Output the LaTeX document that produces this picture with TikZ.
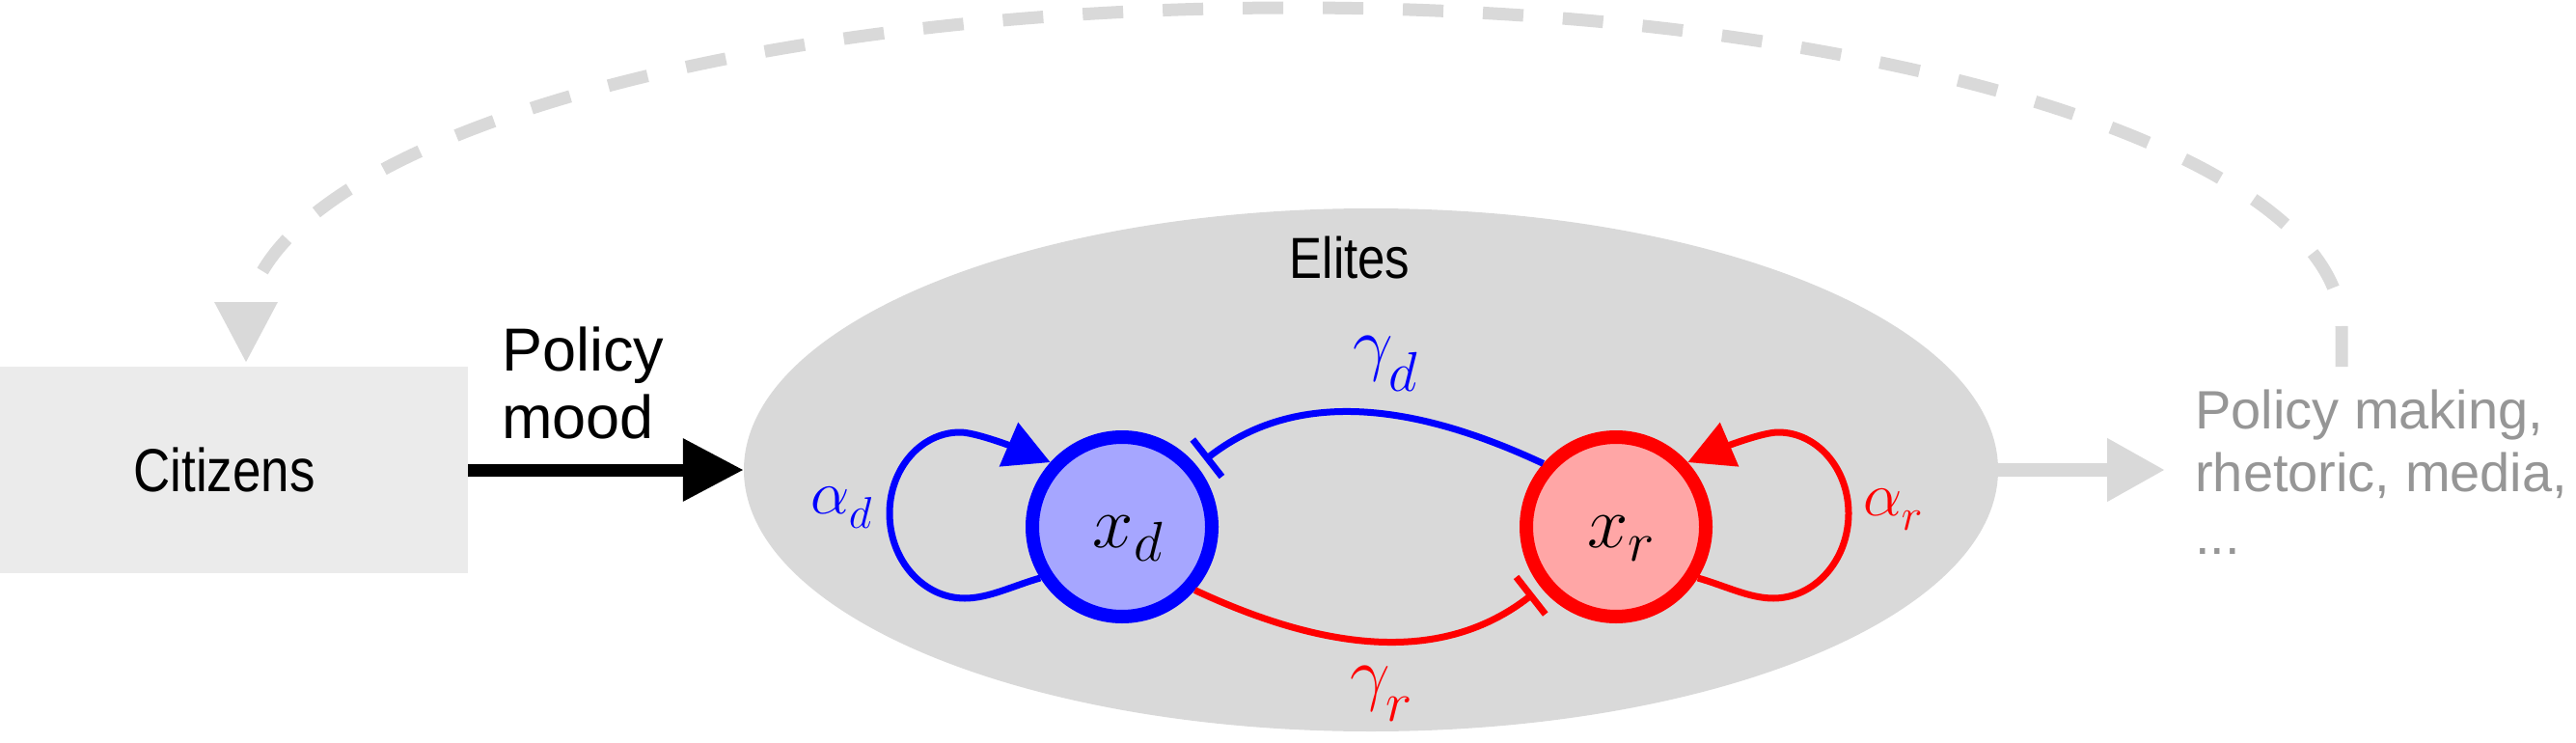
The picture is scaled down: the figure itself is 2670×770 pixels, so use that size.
\RequirePackage{fix-cm}
\documentclass[tikz,border=0pt]{standalone}
\usepackage[no-math]{fontspec}
\setmainfont{Liberation Sans}
\usetikzlibrary{arrows.meta,shapes.geometric}
\newcommand{\subsz}[3]{\raisebox{-#2pt}{\fontsize{#1}{#1}\selectfont$#3$}}
\definecolor{lgrey}{RGB}{217,217,217}
\definecolor{boxgrey}{RGB}{235,235,235}
\definecolor{txtgrey}{RGB}{150,150,150}
\definecolor{dfill}{RGB}{166,166,255}
\definecolor{rfill}{RGB}{255,166,166}
\definecolor{dblue}{RGB}{0,0,255}
\definecolor{rred}{RGB}{255,0,0}
\begin{document}
\begin{tikzpicture}[x=1pt,y=-1pt,
  bigtext/.style={inner sep=0pt, font=\fontsize{63}{70}\selectfont},
  state/.style={circle, minimum size=186pt, line width=14pt, inner sep=0pt},
  statelbl/.style={inner sep=0pt, anchor=base, font=\fontsize{76}{80}\selectfont},
  paramlbl/.style={inner sep=0pt, anchor=base, font=\fontsize{74}{80}\selectfont},
  alphalbl/.style={inner sep=0pt, anchor=base, font=\fontsize{64}{70}\selectfont},
  thinedge/.style={line width=7pt},
  inhib/.style={thinedge, -{Bar[width=49pt]}, shorten >=10pt},
  selfloop/.style={thinedge, -{Triangle[length=47pt,width=48pt]}},
  bigarrow/.style={-{Triangle[length=63pt,width=62pt]}},
]
\useasboundingbox (0,0) rectangle (2670,770);

% feedback dashed arc
\coordinate (fbstart) at (2427,380);
\coordinate (fbend) at (255,376);
\draw[lgrey, line width=13pt, dash pattern=on 42pt off 41pt, bigarrow]
  (fbstart) -- (2427,340) .. controls (2427,156.6) and (1940.8,8) .. (1341,8)
  .. controls (741.2,8) and (255,156.6) .. (255,340) -- (fbend);

% citizens
\node[bigtext, fill=boxgrey, minimum width=485pt, minimum height=214pt] (cit) at (242.5,487)
  {\scalebox{0.84}[1]{Citizens}\hspace*{20pt}};

% elites ellipse
\node[ellipse, fill=lgrey, minimum width=1300pt, minimum height=542pt, inner sep=0pt] (elites) at (1421,487) {};
\node[inner sep=0pt, anchor=base, font=\fontsize{60}{66}\selectfont] (elitestxt) at (1399,288)
  {\scalebox{0.85}[1]{Elites}};

% policy mood
\node[bigtext, align=left, anchor=north west] (mood) at (520,339) {Policy\\mood};
\draw[black, line width=13pt, bigarrow] (cit.east) -- (elites.west);

% output
\coordinate (pmarrow) at (2244,487);
\draw[lgrey, line width=14pt, -{Triangle[length=60pt,width=62pt]}] (elites.east) -- (pmarrow);
\node[inner sep=0pt, text=txtgrey, align=left, anchor=north west, font=\fontsize{56}{65}\selectfont] (pm)
  at (2275,404) {Policy making,\\rhetoric, media,\\...};

% states
\node[state, draw=dblue, fill=dfill] (xd) at (1163,546) {};
\node[state, draw=rred, fill=rfill] (xr) at (1675,546) {};
\node[statelbl] (xdl) at (1169,567) {$x_{\subsz{58}{3}{d}}$};
\node[statelbl] (xrl) at (1680,567) {$x_{\subsz{58}{3}{r}}$};

% self loops
\draw[dblue, selfloop] (xd.212) .. controls (1050,607) and (1025,620) .. (1000,620)
  .. controls (957,620) and (922,580.6) .. (922,532)
  .. controls (922,485.6) and (954.7,448) .. (995,448)
  .. controls (1015,448) and (1071.6,471.8) .. (xd.138);
\draw[rred, selfloop] (xr.-32) .. controls (1788,607) and (1813,620) .. (1838,620)
  .. controls (1881,620) and (1916,580.6) .. (1916,532)
  .. controls (1916,485.6) and (1883.3,448) .. (1843,448)
  .. controls (1823,448) and (1766.4,471.8) .. (xr.42);

% inhibitions
\draw[dblue, inhib] (xr.139) .. controls (1464,417) and (1343,403) .. (xd.39);
\draw[rred, inhib] (xd.-41) .. controls (1374,675) and (1495,689) .. (xr.219);

% labels
\node[alphalbl, text=dblue] (ad) at (872,532) {$\alpha_{\subsz{46}{6}{d}}$};
\node[alphalbl, text=rred] (ar) at (1962,534) {$\alpha_{\subsz{46}{6}{r}}$};
\node[paramlbl, text=dblue] (gd) at (1436,380) {$\gamma_{\subsz{58}{14}{d}}$};
\node[paramlbl, text=rred] (gr) at (1432,722) {$\gamma_{\subsz{58}{14}{r}}$};
\end{tikzpicture}
\end{document}
